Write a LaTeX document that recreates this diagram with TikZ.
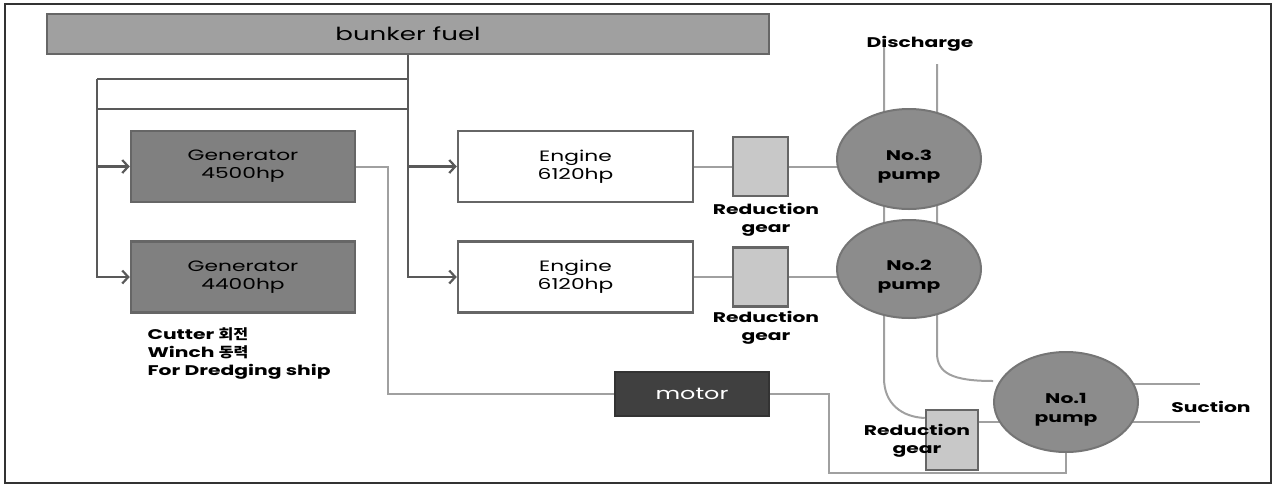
\documentclass[tikz,border=0pt]{standalone}
\usepackage{fontspec}
\setmainfont[FakeStretch=1.45]{Poppins}
\newfontfamily\kofont[FakeStretch=1.15]{Noto Sans CJK KR}
\usetikzlibrary{arrows.meta,backgrounds,shapes.geometric}
\definecolor{edgegray}{HTML}{666666}
\definecolor{feedgray}{HTML}{595959}
\definecolor{pipegray}{HTML}{A0A0A0}
\definecolor{fuelfill}{HTML}{A0A0A0}
\definecolor{genfill}{HTML}{808080}
\definecolor{gearfill}{HTML}{C8C8C8}
\definecolor{pumpfill}{HTML}{8C8C8C}
\definecolor{motorfill}{HTML}{404040}
\begin{document}
\begin{tikzpicture}[x=1pt, y=-1pt,
    >={Straight Barb[length=6pt,width=13pt]},
    box/.style={draw=edgegray, line width=2.5pt, inner sep=0pt, align=center,
        minimum width=224pt, minimum height=71pt,
        font=\fontsize{15}{18}\selectfont},
    genbox/.style={box, fill=genfill},
    engbox/.style={box, fill=white, minimum width=235pt},
    gearbox/.style={draw=edgegray, line width=2.5pt, fill=gearfill,
        minimum width=55pt, minimum height=59pt, inner sep=0pt},
    pumpnode/.style={ellipse, draw=edgegray!90, line width=2pt, fill=pumpfill,
        minimum width=144pt, minimum height=100pt, inner sep=0pt},
    pumptext/.style={align=center, font=\fontsize{14}{19}\selectfont\bfseries},
    lbl/.style={align=center, font=\fontsize{14}{18}\selectfont\bfseries},
    feed/.style={draw=feedgray, line width=2.2pt},
    pipe/.style={draw=pipegray, line width=2pt}]
    \useasboundingbox (0,0) rectangle (1274,485);
    \draw[line width=1.5pt, draw=black!80] (5,4) rectangle (1271,483);

    \node[box, fill=fuelfill, minimum width=722pt, minimum height=40pt,
        font=\fontsize{18}{20}\selectfont] (fuel) at (408,34) {bunker fuel};

    \node[genbox] (gen1) at (243,166.5) {Generator\\4500hp};
    \node[genbox] (gen2) at (243,277) {Generator\\4400hp};
    \node[engbox] (eng1) at (575.5,166.5) {Engine\\6120hp};
    \node[engbox] (eng2) at (575.5,277) {Engine\\6120hp};
    \node[gearbox] (gear1) at (760.5,166.5) {};
    \node[gearbox] (gear2) at (760.5,277) {};
    \node[gearbox, minimum width=52pt, minimum height=60pt] (gear3) at (952,440) {};
    \node[draw=black!80, line width=2pt, fill=motorfill, text=white,
        minimum width=154pt, minimum height=44pt,
        font=\fontsize{16.5}{20}\selectfont] (motor) at (692,394) {motor};

    \node[pumpnode] (pump3) at (909,159) {};
    \node[pumpnode, minimum height=98pt] (pump2) at (909,269) {};
    \node[pumpnode] (pump1) at (1066,402) {};
    \node[pumptext] at ([yshift=-8pt]pump3.center) {No.3\\pump};
    \node[pumptext] at ([yshift=-8pt]pump2.center) {No.2\\pump};
    \node[pumptext] at ([yshift=-8pt]pump1.center) {No.1\\pump};

    \node[lbl] (rg1) at (766,220) {Reduction\\gear};
    \node[lbl] (rg2) at (766,328) {Reduction\\gear};
    \node[lbl] (rg3) at (917,441) {Reduction\\gear};
    \node[lbl] (dis) at (920,44) {Discharge};
    \node[lbl] (suc) at (1211,407) {Suction};
    \node[lbl, align=left, anchor=north west] (note) at (144,324)
        {Cutter {\kofont 회전}\\Winch {\kofont 동력}\\For Dredging ship};

    \coordinate (t1) at (97,79);
    \coordinate (t2) at (97,109);
    \coordinate (gm) at (388,394);
    \coordinate (mp) at (829,473);
    \coordinate (dis1) at (884,47);
    \coordinate (dis2) at (937,64);
    \coordinate (suc1) at (1200,384);
    \coordinate (suc2) at (1200,422);

    \draw[feed,->] (fuel.south) |- (eng2.west);
    \draw[feed,->] (fuel.south |- eng1.west) -- (eng1.west);
    \draw[feed] (fuel.south |- t1) -- (t1);
    \draw[feed] (fuel.south |- t2) -- (t2);
    \draw[feed,->] (t1) |- (gen2.west);
    \draw[feed,->] (t1 |- gen1.west) -- (gen1.west);

    \draw[pipe] (gen1.east) -| (gm) -- (motor.west);
    \draw[pipe] (motor.east) -| (mp) -| (pump1.south);
    \draw[pipe] (eng1.east) -- (gear1.west);
    \draw[pipe] (eng2.east) -- (gear2.west);

    \begin{scope}[on background layer]
        \draw[pipe] (gear1.east) -- (gear1.east -| pump3.center);
        \draw[pipe] (gear2.east) -- (gear2.east -| pump2.center);
        \draw[pipe] (dis1) -- (884,378) .. controls (884,404) and (902,417) .. ([yshift=22pt]gear3.west);
        \draw[pipe] (dis2) -- (937,353) .. controls (937,373) and (952,381) .. ([yshift=21pt]pump1.west);
        \draw[pipe] ([yshift=18pt]gear3.east) -- ([yshift=18pt]gear3.east -| pump1.center);
        \draw[pipe] (suc1 -| pump1.center) -- (suc1);
        \draw[pipe] (suc2 -| pump1.center) -- (suc2);
    \end{scope}
\end{tikzpicture}
\end{document}
